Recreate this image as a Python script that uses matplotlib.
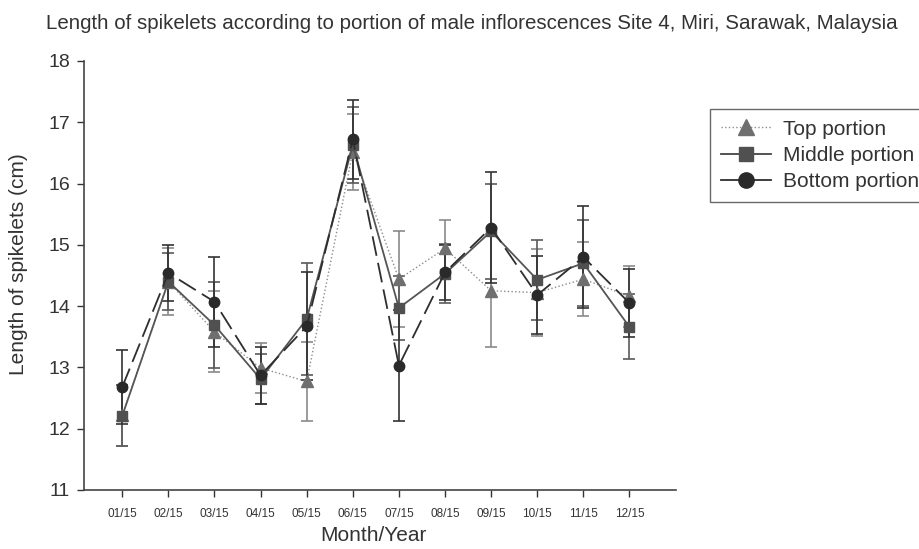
import matplotlib.pyplot as plt
from matplotlib.lines import Line2D

plt.rcParams['font.family'] = ['Liberation Sans', 'DejaVu Sans']

# Monthly mean spikelet length (cm) with error bars for each portion
months = ['01/15', '02/15', '03/15', '04/15', '05/15', '06/15',
          '07/15', '08/15', '09/15', '10/15', '11/15', '12/15']

top_mean = [12.22, 14.40, 13.58, 12.99, 12.77, 16.52, 14.44, 14.94, 14.25, 14.22, 14.44, 14.16]
top_err = [0.50, 0.55, 0.66, 0.40, 0.64, 0.62, 0.78, 0.47, 0.92, 0.71, 0.60, 0.50]

mid_mean = [12.21, 14.40, 13.69, 12.81, 13.79, 16.63, 13.97, 14.53, 15.22, 14.43, 14.70, 13.66]
mid_err = [0.50, 0.46, 0.70, 0.41, 0.92, 0.62, 0.52, 0.48, 0.78, 0.65, 0.70, 0.53]

bot_mean = [12.68, 14.54, 14.07, 12.87, 13.67, 16.72, 13.03, 14.55, 15.28, 14.18, 14.80, 14.05]
bot_err = [0.60, 0.45, 0.73, 0.47, 0.88, 0.64, 0.90, 0.45, 0.91, 0.63, 0.83, 0.55]

x = list(range(1, len(months) + 1))

fig = plt.figure(figsize=(9.2, 5.49), dpi=100)
ax = fig.add_axes([0.0913, 0.1075, 0.644, 0.7815])

dash = (0, (11, 4))
ax.errorbar(x, top_mean, yerr=top_err, color='#8c8c8c', ecolor='#8a8a8a',
            linestyle=':', linewidth=1.0, marker='^', markersize=8,
            markerfacecolor='#6f6f6f', markeredgecolor='#6f6f6f',
            capsize=4.5, elinewidth=1.2, capthick=1.2)
ax.errorbar(x, mid_mean, yerr=mid_err, color='#555555', ecolor='#5a5a5a',
            linestyle='-', linewidth=1.3, marker='s', markersize=6.5,
            markerfacecolor='#505050', markeredgecolor='#505050',
            capsize=4.5, elinewidth=1.2, capthick=1.2)
ax.errorbar(x, bot_mean, yerr=bot_err, color='#2e2e2e', ecolor='#333333',
            linestyle=dash, linewidth=1.3, marker='o', markersize=7.5,
            markerfacecolor='#2a2a2a', markeredgecolor='#2a2a2a',
            capsize=4.5, elinewidth=1.2, capthick=1.2)

ax.set_xlim(0.17, 13.02)
ax.set_ylim(11, 18)
ax.set_xticks(x)
ax.set_xticklabels(months, fontsize=8.5, color='#333333')
ax.set_yticks(range(11, 19))
ax.tick_params(axis='y', labelsize=14, length=5, width=1.0, pad=5, colors='#333333')
ax.tick_params(axis='x', length=5, width=1.0, pad=8, colors='#333333')

for side in ['top', 'right']:
    ax.spines[side].set_visible(False)
for side in ['left', 'bottom']:
    ax.spines[side].set_color('#444444')
    ax.spines[side].set_linewidth(1.2)

ax.set_xlabel('Month/Year', fontsize=15, color='#333333')
ax.set_ylabel('Length of spikelets (cm)', fontsize=15, color='#333333')
ax.xaxis.set_label_coords(0.488, -0.084)
ax.yaxis.set_label_coords(-0.095, 0.527)

fig.text(0.513, 0.958, 'Length of spikelets according to portion of male inflorescences '
         'Site 4, Miri, Sarawak, Malaysia', ha='center', va='center',
         fontsize=14.8, color='#333333')

handles = [
    Line2D([], [], color='#8c8c8c', linestyle=':', linewidth=1.0, marker='^',
           markersize=11, markerfacecolor='#6f6f6f', markeredgecolor='#6f6f6f'),
    Line2D([], [], color='#444444', linestyle='-', linewidth=1.3, marker='s',
           markersize=10, markerfacecolor='#505050', markeredgecolor='#505050'),
    Line2D([], [], color='#2e2e2e', linestyle='-', linewidth=1.3, marker='o',
           markersize=11, markerfacecolor='#2a2a2a', markeredgecolor='#2a2a2a'),
]
labels = ['Top portion', 'Middle portion', 'Bottom portion']
leg = fig.legend(handles, labels, loc='upper left', bbox_to_anchor=(0.772, 0.801),
                 fontsize=15, frameon=True, fancybox=False, edgecolor='#444444',
                 handlelength=2.4, handletextpad=0.6, borderpad=0.5,
                 labelspacing=0.35, borderaxespad=0)
leg.get_frame().set_linewidth(1.0)
for t in leg.get_texts():
    t.set_color('#333333')

fig.savefig('out.png', dpi=100)
